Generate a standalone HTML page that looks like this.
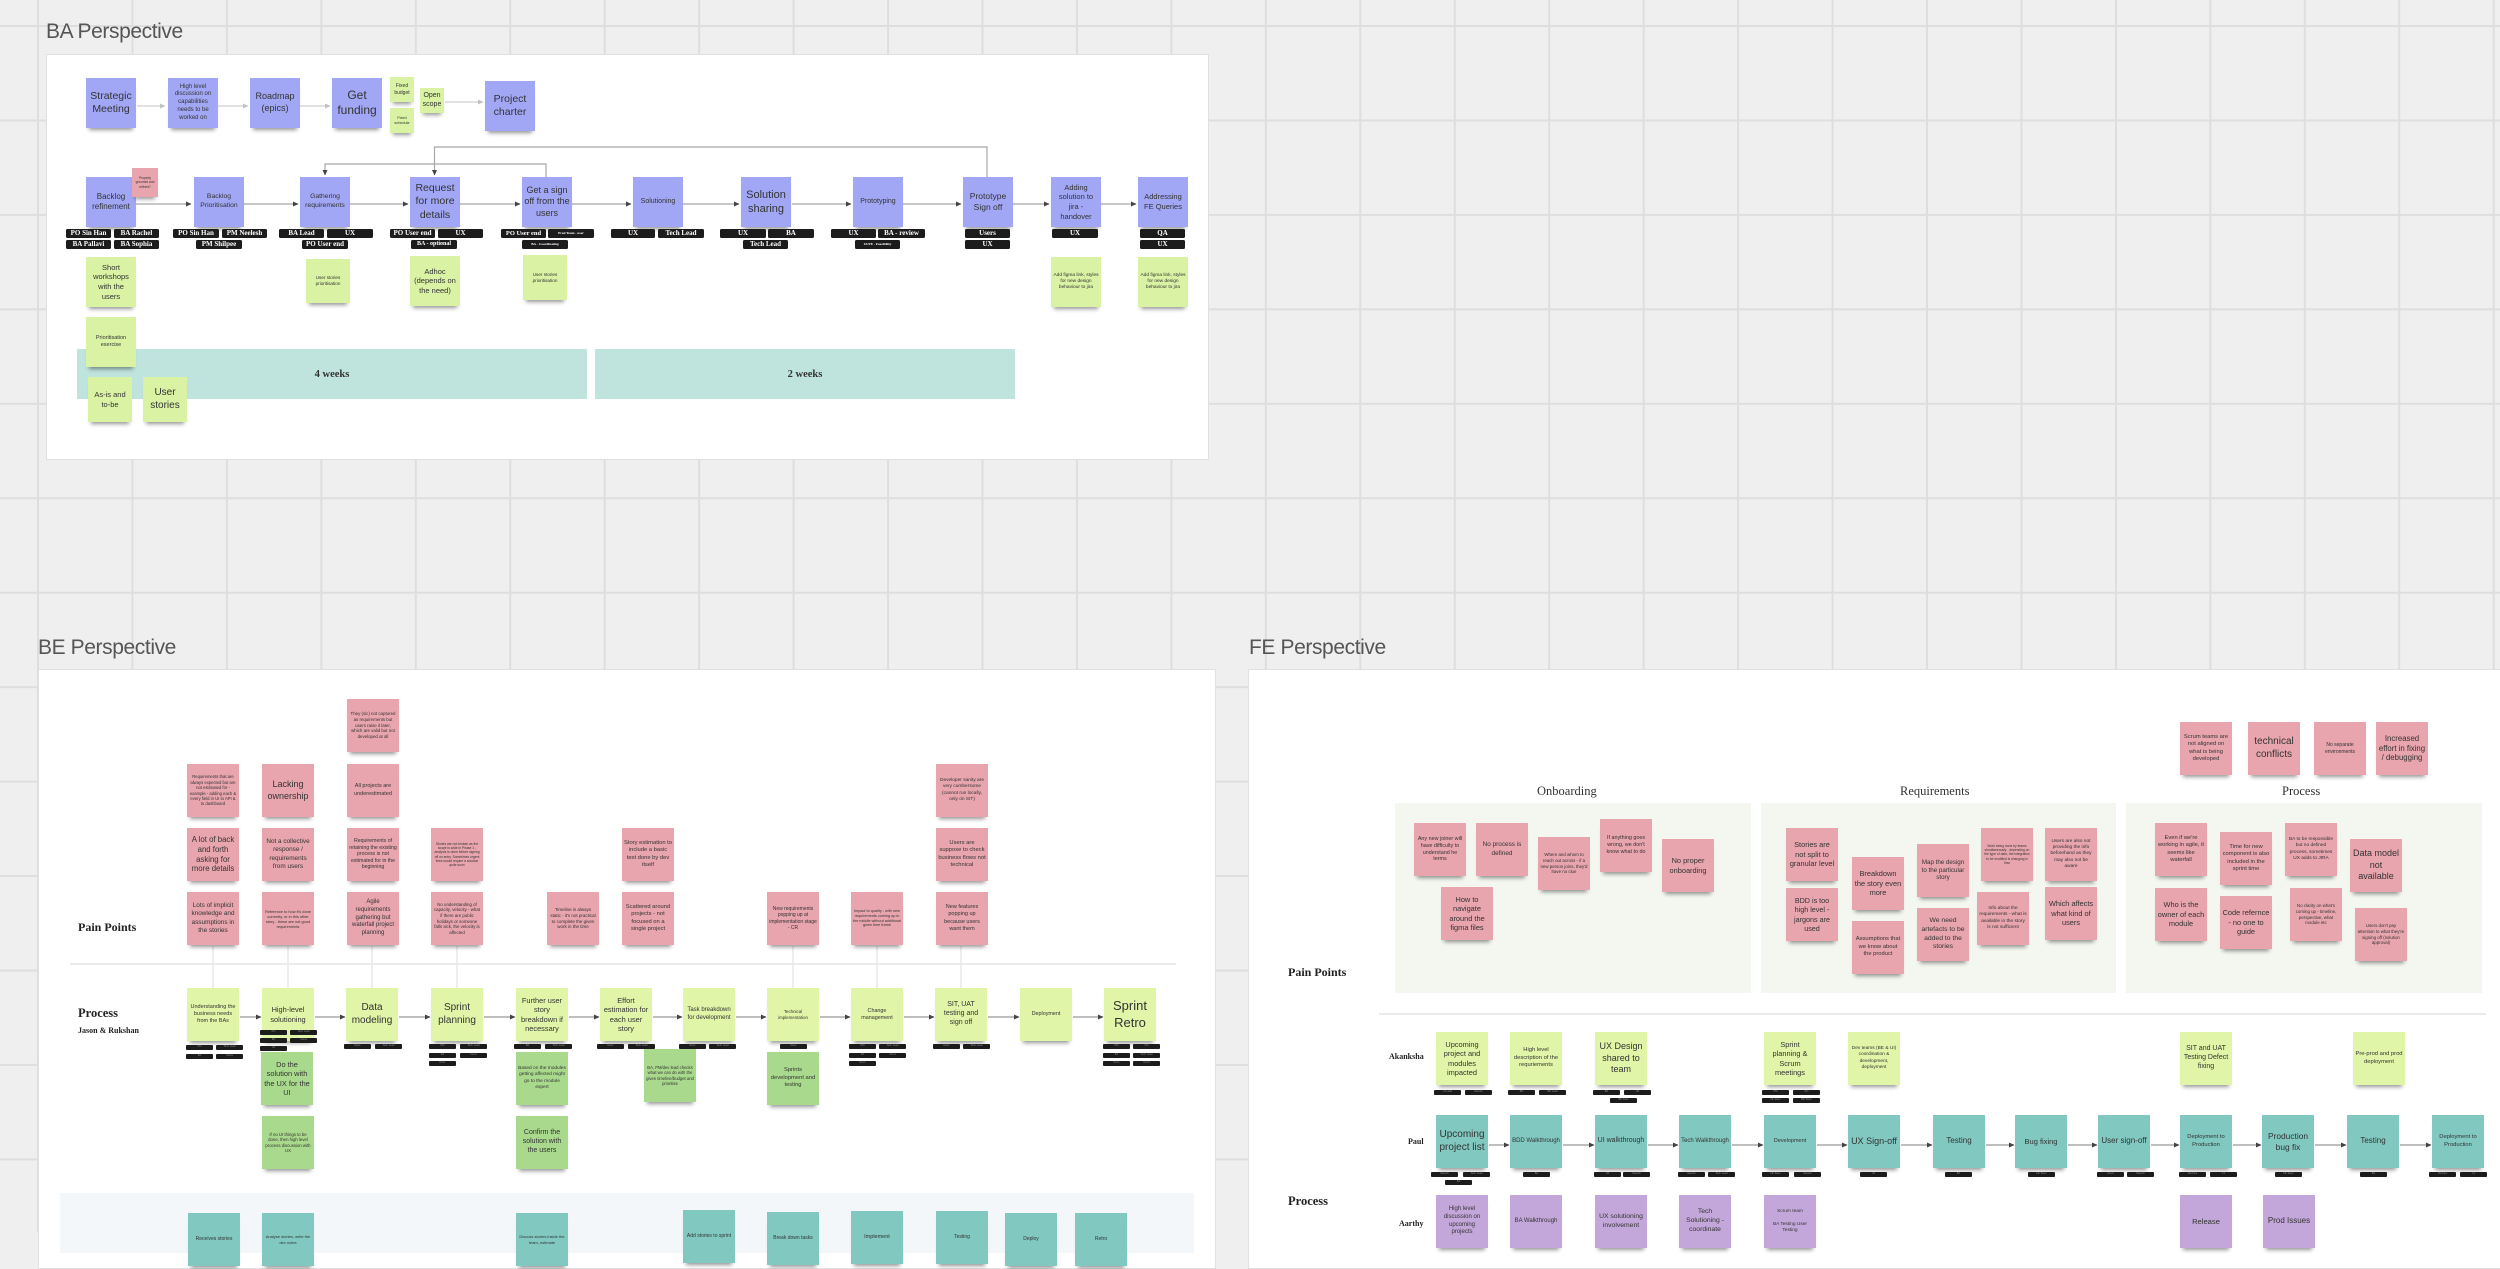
<!DOCTYPE html>
<html><head><meta charset="utf-8">
<style>
*{box-sizing:border-box}
body{margin:0;width:2500px;height:1232px;overflow:hidden;background:#efefef;position:relative;font-family:"Liberation Sans",sans-serif;}
.abs{position:absolute}
.panel{position:absolute;background:#fff;border:1px solid #e0e0e0;}
.ttl{position:absolute;font-size:21px;color:#555;letter-spacing:-0.4px;line-height:1;white-space:nowrap}
.n{position:absolute;width:52px;height:53px;display:flex;align-items:center;justify-content:center;text-align:center;color:#333;line-height:1.28;box-shadow:0 5px 4px -3px rgba(0,0,0,.42);overflow:hidden;padding:2px;}
.b{width:50px;height:50px}
.p{background:#a1a7f5}
.g{background:#d9f2a3}
.k{background:#e8a5ae}
.y{background:#e0f5a7}
.d{background:#a9d98c}
.c{background:#80c8c0}
.v{background:#c4a7da}
.tag{position:absolute;background:#1c1c1c;color:#fff;font-family:"Liberation Serif",serif;font-weight:bold;font-size:7px;height:9px;line-height:9px;text-align:center;border-radius:1.5px;overflow:hidden;white-space:nowrap}
.tg{position:absolute;background:#1c1c1c;color:#8a8a8a;font-size:2.6px;height:4.6px;line-height:4.6px;width:27px;text-align:center;border-radius:1px;overflow:hidden;white-space:nowrap}
.lbl{position:absolute;font-family:"Liberation Serif",serif;font-weight:bold;color:#222;white-space:nowrap;line-height:1}
.sh{position:absolute;font-family:"Liberation Serif",serif;color:#333;font-size:12.5px;white-space:nowrap;line-height:1}
.box{position:absolute;background:#f3f7ef}
</style></head><body>

<svg class="abs" style="left:0;top:0" width="2500" height="1232">
<defs>
<pattern id="gp" width="94.45" height="94.45" patternUnits="userSpaceOnUse" x="37" y="25">
<path d="M1 0V94.45M0 1H94.45" stroke="#dedede" stroke-width="2" fill="none"/>
</pattern>
</defs>
<rect width="2500" height="1232" fill="url(#gp)"/>
</svg>

<!-- titles -->
<div class="ttl" style="left:46px;top:21px">BA Perspective</div>
<div class="ttl" style="left:38px;top:637px">BE Perspective</div>
<div class="ttl" style="left:1249px;top:637px">FE Perspective</div>

<!-- panels -->
<div class="panel" style="left:46px;top:54px;width:1163px;height:406px"></div>
<div class="panel" style="left:38px;top:669px;width:1178px;height:600px"></div>
<div class="panel" style="left:1248px;top:669px;width:1300px;height:600px"></div>

<!-- BA teal bands -->
<div class="abs" style="left:77px;top:349px;width:510px;height:50px;background:#bfe4dd;display:flex;align-items:center;justify-content:center;font-family:'Liberation Serif',serif;font-weight:bold;font-size:10.5px;color:#333">4 weeks</div>
<div class="abs" style="left:595px;top:349px;width:420px;height:50px;background:#bfe4dd;display:flex;align-items:center;justify-content:center;font-family:'Liberation Serif',serif;font-weight:bold;font-size:10.5px;color:#333">2 weeks</div>

<!-- BE bottom band -->
<div class="abs" style="left:60px;top:1193px;width:1134px;height:60px;background:#f4f7fa"></div>

<!-- FE section boxes -->
<div class="box" style="left:1395px;top:803px;width:356px;height:190px"></div>
<div class="box" style="left:1761px;top:803px;width:355px;height:190px"></div>
<div class="box" style="left:2126px;top:803px;width:356px;height:190px"></div>
<div class="sh" style="left:1537px;top:785px">Onboarding</div>
<div class="sh" style="left:1900px;top:785px">Requirements</div>
<div class="sh" style="left:2282px;top:785px">Process</div>

<!-- lines / arrows -->
<svg class="abs" style="left:0;top:0" width="2500" height="1232">
<defs>
<marker id="al" markerWidth="6" markerHeight="6" refX="5" refY="3" orient="auto" markerUnits="userSpaceOnUse"><path d="M0,0.5 L5.5,3 L0,5.5z" fill="#c2c2c2"/></marker>
<marker id="ad" markerWidth="6" markerHeight="6" refX="5" refY="3" orient="auto" markerUnits="userSpaceOnUse"><path d="M0,0.5 L5.5,3 L0,5.5z" fill="#444"/></marker>
</defs>
<g stroke="#cfcfcf" stroke-width="1.2" fill="none" marker-end="url(#al)">
<path d="M137 106H165"/><path d="M218 106H248"/><path d="M300 106H330"/><path d="M445 102H483"/>
</g>
<g stroke="#a8a8a8" stroke-width="1.2" fill="none" marker-end="url(#ad)">
<path d="M136 204H191"/><path d="M244 204H298"/><path d="M350 204H408"/><path d="M460 204H520"/><path d="M572 204H631"/><path d="M683 204H739"/><path d="M792 204H851"/><path d="M903 204H961"/><path d="M1013 204H1049"/><path d="M1101 204H1136"/>
<path d="M546 177V164H325V175"/>
<path d="M987 177V147H434.5V175"/>
</g>
<g stroke="#e2e2e2" stroke-width="1.2">
<path d="M213 946V988M288 946V988M372 946V988M457 946V988M793 946V988M877 946V988M961 946V988"/>
</g>
<path d="M70 964H1176" stroke="#ebebeb" stroke-width="2"/>
<path d="M1379 1014H2486" stroke="#ebebeb" stroke-width="2"/>
<g stroke="#999" stroke-width="1.3" fill="none" marker-end="url(#ad)">
<path d="M240 1017H261"/><path d="M315 1017H345"/><path d="M399 1017H430"/><path d="M484 1017H515"/><path d="M569 1017H599"/><path d="M653 1017H682"/><path d="M736 1017H766"/><path d="M820 1017H850"/><path d="M904 1017H934"/><path d="M988 1017H1019"/><path d="M1073 1017H1103"/>
<path d="M1489 1145H1509"/><path d="M1563 1145H1594"/><path d="M1648 1145H1678"/><path d="M1732 1145H1763"/><path d="M1817 1145H1847"/><path d="M1901 1145H1932"/><path d="M1986 1145H2014"/><path d="M2068 1145H2097"/><path d="M2151 1145H2179"/><path d="M2233 1145H2261"/><path d="M2315 1145H2346"/><path d="M2400 1145H2431"/>
</g>
</svg>

<!-- ===== BA ===== -->
<div class="n p b" style="left:86px;top:78px;font-size:10.5px">Strategic Meeting</div>
<div class="n p b" style="left:168px;top:78px;font-size:6px">High level discussion on capabilities needs to be worked on</div>
<div class="n p b" style="left:250px;top:78px;font-size:9px">Roadmap (epics)</div>
<div class="n p b" style="left:332px;top:78px;font-size:12px">Get funding</div>
<div class="n g" style="left:390px;top:77px;width:24px;height:25px;font-size:5px;padding:1px">Fixed budget</div>
<div class="n g" style="left:390px;top:108px;width:24px;height:25px;font-size:3.8px;padding:1px">Fixed schedule</div>
<div class="n g" style="left:420px;top:88px;width:24px;height:25px;font-size:7px;padding:1px">Open scope</div>
<div class="n p b" style="left:485px;top:81px;font-size:10.5px">Project charter</div>

<div class="n p b" style="left:86px;top:177px;font-size:8px">Backlog refinement</div>
<div class="n k" style="left:132px;top:168px;width:26px;height:29px;font-size:3.2px;padding:1px">Properly groomed and refined?</div>
<div class="n p b" style="left:194px;top:177px;font-size:6.8px">Backlog Prioritisation</div>
<div class="n p b" style="left:300px;top:177px;font-size:6.8px">Gathering requirements</div>
<div class="n p b" style="left:410px;top:177px;font-size:10.5px">Request for more details</div>
<div class="n p b" style="left:522px;top:177px;font-size:9px">Get a sign off from the users</div>
<div class="n p b" style="left:633px;top:177px;font-size:7px">Solutioning</div>
<div class="n p b" style="left:741px;top:177px;font-size:11px">Solution sharing</div>
<div class="n p b" style="left:853px;top:177px;font-size:7px">Prototyping</div>
<div class="n p b" style="left:963px;top:177px;font-size:8.5px">Prototype Sign off</div>
<div class="n p b" style="left:1051px;top:177px;font-size:7.5px">Adding solution to jira - handover</div>
<div class="n p b" style="left:1138px;top:177px;font-size:7.5px">Addressing FE Queries</div>

<!-- BA tags -->
<div class="tag" style="left:66px;top:229px;width:45px">PO Sin Han</div>
<div class="tag" style="left:114px;top:229px;width:45px">BA Rachel</div>
<div class="tag" style="left:66px;top:240px;width:45px">BA Pallavi</div>
<div class="tag" style="left:114px;top:240px;width:45px">BA Sophia</div>
<div class="tag" style="left:173px;top:229px;width:46px">PO Sin Han</div>
<div class="tag" style="left:222px;top:229px;width:45px">PM Neelesh</div>
<div class="tag" style="left:196px;top:240px;width:46px">PM Shilpee</div>
<div class="tag" style="left:279px;top:229px;width:45px">BA Lead</div>
<div class="tag" style="left:327px;top:229px;width:46px">UX</div>
<div class="tag" style="left:302px;top:240px;width:46px">PO User end</div>
<div class="tag" style="left:390px;top:229px;width:45px">PO User end</div>
<div class="tag" style="left:438px;top:229px;width:45px">UX</div>
<div class="tag" style="left:411px;top:240px;width:46px;font-size:6px">BA - optional</div>
<div class="tag" style="left:501px;top:229px;width:45px;font-size:6.5px">PO User end</div>
<div class="tag" style="left:548px;top:229px;width:46px;font-size:3.5px">Prod Team - user</div>
<div class="tag" style="left:522px;top:240px;width:46px;font-size:3.5px">BA - Coordinating</div>
<div class="tag" style="left:611px;top:229px;width:44px">UX</div>
<div class="tag" style="left:658px;top:229px;width:46px">Tech Lead</div>
<div class="tag" style="left:720px;top:229px;width:46px">UX</div>
<div class="tag" style="left:768px;top:229px;width:46px">BA</div>
<div class="tag" style="left:743px;top:240px;width:45px">Tech Lead</div>
<div class="tag" style="left:831px;top:229px;width:45px">UX</div>
<div class="tag" style="left:878px;top:229px;width:47px">BA - review</div>
<div class="tag" style="left:855px;top:240px;width:45px;font-size:3.5px">UI/FE - Feasibility</div>
<div class="tag" style="left:965px;top:229px;width:45px">Users</div>
<div class="tag" style="left:965px;top:240px;width:45px">UX</div>
<div class="tag" style="left:1052px;top:229px;width:46px">UX</div>
<div class="tag" style="left:1140px;top:229px;width:45px">QA</div>
<div class="tag" style="left:1140px;top:240px;width:45px">UX</div>

<div class="n g b" style="left:86px;top:257px;font-size:7.5px">Short workshops with the users</div>
<div class="n g" style="left:306px;top:259px;width:44px;height:44px;font-size:4.6px">User stories prioritisation</div>
<div class="n g b" style="left:410px;top:256px;font-size:7.5px">Adhoc (depends on the need)</div>
<div class="n g" style="left:523px;top:255px;width:44px;height:45px;font-size:4.6px">User stories prioritisation</div>
<div class="n g b" style="left:1051px;top:257px;font-size:4.8px">Add figma link, styles for new design behaviour to jira</div>
<div class="n g b" style="left:1138px;top:257px;font-size:4.8px">Add figma link, styles for new design behaviour to jira</div>
<div class="n g b" style="left:86px;top:317px;font-size:5.5px">Prioritisation exercise</div>
<div class="n g" style="left:88px;top:377px;width:44px;height:45px;font-size:7.5px">As-is and to-be</div>
<div class="n g" style="left:143px;top:377px;width:44px;height:45px;font-size:10px">User stories</div>

<!-- ===== BE ===== -->
<div class="lbl" style="left:78px;top:921px;font-size:12px">Pain Points</div>
<div class="lbl" style="left:78px;top:1007px;font-size:12.5px">Process</div>
<div class="lbl" style="left:78px;top:1027px;font-size:8px">Jason &amp; Rukshan</div>

<div class="n k" style="left:347px;top:699px;font-size:4.4px">They (sic) not captured as requirements but users raise it later, which are valid but not developed at all</div>
<div class="n k" style="left:187px;top:764px;font-size:4.2px">Requirements that are always expected but are not estimated for - example - adding each &amp; every field in UI to API &amp; to dashboard</div>
<div class="n k" style="left:262px;top:764px;font-size:9px">Lacking ownership</div>
<div class="n k" style="left:347px;top:764px;font-size:5.5px">All projects are underestimated</div>
<div class="n k" style="left:936px;top:764px;font-size:4.8px">Developer sanity are very cumbersome (cannot run locally, only on SIT)</div>

<div class="n k" style="left:187px;top:828px;font-size:7.8px">A lot of back and forth asking for more details</div>
<div class="n k" style="left:262px;top:828px;font-size:6.4px">Not a collective response / requirements from users</div>
<div class="n k" style="left:347px;top:828px;font-size:5.2px">Requirements of retaining the existing process is not estimated for in the beginning</div>
<div class="n k" style="left:431px;top:828px;font-size:3.3px">Stories are not broken as the scope is wide in Phase 1 - analysis is done before signing off on entry. Sometimes urgent fixes would require a solution quite soon</div>
<div class="n k" style="left:622px;top:828px;font-size:5.8px">Story estimation to include a basic test done by dev itself</div>
<div class="n k" style="left:936px;top:828px;font-size:5.8px">Users are suppose to check business flows not technical</div>

<div class="n k" style="left:187px;top:892px;font-size:6.4px">Lots of implicit knowledge and assumptions in the stories</div>
<div class="n k" style="left:262px;top:892px;font-size:3.9px">Reference to how it's done currently, or in this other story - these are not good requirements</div>
<div class="n k" style="left:347px;top:892px;font-size:6px">Agile requirements gathering but waterfall project planning</div>
<div class="n k" style="left:431px;top:892px;font-size:4.4px">No understanding of capacity, velocity - what if there are public holidays or someone falls sick, the velocity is affected</div>
<div class="n k" style="left:547px;top:892px;font-size:4.5px">Timeline is always static - it's not practical to complete the given work in the time</div>
<div class="n k" style="left:622px;top:892px;font-size:5.8px">Scattered around projects - not focused on a single project</div>
<div class="n k" style="left:767px;top:892px;font-size:5px">New requirements popping up at implementation stage - CR</div>
<div class="n k" style="left:851px;top:892px;font-size:3.8px">Impact to quality - with new requirements coming up in the middle without additional given time frame</div>
<div class="n k" style="left:936px;top:892px;font-size:5.5px">New features popping up because users want them</div>

<!-- BE process -->
<div class="n y" style="left:187px;top:988px;font-size:5.5px">Understanding the business needs from the BAs</div>
<div class="n y" style="left:262px;top:988px;font-size:7.4px">High-level solutioning</div>
<div class="n y" style="left:346px;top:988px;font-size:10px">Data modeling</div>
<div class="n y" style="left:431px;top:988px;font-size:10px">Sprint planning</div>
<div class="n y" style="left:516px;top:988px;font-size:7.4px">Further user story breakdown if necessary</div>
<div class="n y" style="left:600px;top:988px;font-size:7.4px">Effort estimation for each user story</div>
<div class="n y" style="left:683px;top:988px;font-size:6px">Task breakdown for development</div>
<div class="n y" style="left:767px;top:988px;font-size:4.4px">Technical implementation</div>
<div class="n y" style="left:851px;top:988px;font-size:5.4px">Change management</div>
<div class="n y" style="left:935px;top:988px;font-size:7px">SIT, UAT testing and sign off</div>
<div class="n y" style="left:1020px;top:988px;font-size:5.4px">Deployment</div>
<div class="n y" style="left:1104px;top:988px;font-size:13px;line-height:1.3">Sprint Retro</div>

<!-- BE tags -->
<div class="tg" style="left:186px;top:1045px">PO</div><div class="tg" style="left:216px;top:1045px">Tech Lead</div>
<div class="tg" style="left:186px;top:1054px">BA</div><div class="tg" style="left:216px;top:1054px">Users</div>
<div class="tg" style="left:260px;top:1030px">PO</div><div class="tg" style="left:290px;top:1030px">Tech Lead</div>
<div class="tg" style="left:260px;top:1038px">BA</div><div class="tg" style="left:290px;top:1038px">Users</div>
<div class="tg" style="left:260px;top:1046px">UX</div>
<div class="tg" style="left:344px;top:1044px">Devs</div><div class="tg" style="left:375px;top:1044px">Tech Lead</div>
<div class="tg" style="left:429px;top:1044px">PM</div><div class="tg" style="left:460px;top:1044px">Tech Lead</div>
<div class="tg" style="left:429px;top:1053px">BA</div><div class="tg" style="left:460px;top:1053px">Users</div>
<div class="tg" style="left:429px;top:1061px">Devs</div>
<div class="tg" style="left:514px;top:1044px">BA</div><div class="tg" style="left:545px;top:1044px">Tech Lead</div>
<div class="tg" style="left:597px;top:1044px">Devs</div><div class="tg" style="left:628px;top:1044px">Tech Lead</div>
<div class="tg" style="left:679px;top:1044px">Devs</div><div class="tg" style="left:709px;top:1044px">Tech Lead</div>
<div class="tg" style="left:780px;top:1044px">Devs</div>
<div class="tg" style="left:849px;top:1044px">PM</div><div class="tg" style="left:879px;top:1044px">Tech Lead</div>
<div class="tg" style="left:849px;top:1053px">BA</div><div class="tg" style="left:879px;top:1053px">Users</div>
<div class="tg" style="left:849px;top:1061px">Devs</div>
<div class="tg" style="left:933px;top:1044px">Devs</div><div class="tg" style="left:963px;top:1044px">Tech Lead</div>
<div class="tg" style="left:1103px;top:1044px">PM</div><div class="tg" style="left:1133px;top:1044px">PO</div>
<div class="tg" style="left:1103px;top:1053px">BA</div><div class="tg" style="left:1133px;top:1053px">Tech Lead</div>
<div class="tg" style="left:1103px;top:1061px">Devs</div><div class="tg" style="left:1133px;top:1061px">Users</div>

<!-- BE green -->
<div class="n d" style="left:261px;top:1052px;font-size:7.4px">Do the solution with the UX for the UI</div>
<div class="n d" style="left:262px;top:1116px;font-size:4.3px">If no UI things to be done, then high level process discussion with UX</div>
<div class="n d" style="left:516px;top:1052px;font-size:4.8px">Based on the modules getting affected might go to the module expert</div>
<div class="n d" style="left:516px;top:1116px;font-size:7px">Confirm the solution with the users</div>
<div class="n d" style="left:644px;top:1049px;font-size:4.2px">BA, PM/dev lead checks what we can do with the given timeline/budget and prioritise</div>
<div class="n d" style="left:767px;top:1052px;font-size:5.8px">Sprints development and testing</div>

<!-- BE bottom teal -->
<div class="n c" style="left:188px;top:1213px;font-size:5px">Receives stories</div>
<div class="n c" style="left:262px;top:1213px;font-size:4px">Analyse stories, write the dev notes</div>
<div class="n c" style="left:516px;top:1213px;font-size:4px">Discuss stories inside the team, estimate</div>
<div class="n c" style="left:683px;top:1210px;font-size:5px">Add stories to sprint</div>
<div class="n c" style="left:767px;top:1212px;font-size:5px">Break down tasks</div>
<div class="n c" style="left:851px;top:1211px;font-size:5.5px">Implement</div>
<div class="n c" style="left:936px;top:1211px;font-size:5px">Testing</div>
<div class="n c" style="left:1005px;top:1213px;font-size:5px">Deploy</div>
<div class="n c" style="left:1075px;top:1213px;font-size:5px">Retro</div>

<!-- ===== FE ===== -->
<div class="n k" style="left:2180px;top:722px;font-size:5.8px">Scrum teams are not aligned on what is being developed</div>
<div class="n k" style="left:2248px;top:722px;font-size:10px">technical conflicts</div>
<div class="n k" style="left:2314px;top:722px;font-size:5px">No separate environments</div>
<div class="n k" style="left:2376px;top:722px;font-size:7.8px">Increased effort in fixing / debugging</div>

<div class="n k" style="left:1414px;top:823px;font-size:5.4px">Any new joiner will have difficulty to understand he terms</div>
<div class="n k" style="left:1476px;top:823px;font-size:6.4px">No process is defined</div>
<div class="n k" style="left:1538px;top:837px;font-size:4.4px">Where and whom to reach out across - if a new person joins, they'd have no clue</div>
<div class="n k" style="left:1600px;top:819px;font-size:5.4px">If anything goes wrong, we don't know what to do</div>
<div class="n k" style="left:1662px;top:839px;font-size:7.4px">No proper onboarding</div>
<div class="n k" style="left:1441px;top:887px;font-size:7.4px">How to navigate around the figma files</div>

<div class="n k" style="left:1786px;top:828px;font-size:7.4px">Stories are not split to granular level</div>
<div class="n k" style="left:1786px;top:888px;font-size:7.2px">BDD is too high level - jargons are used</div>
<div class="n k" style="left:1852px;top:857px;font-size:7.4px">Breakdown the story even more</div>
<div class="n k" style="left:1852px;top:921px;font-size:5.8px">Assumptions that we know about the product</div>
<div class="n k" style="left:1917px;top:844px;font-size:6.2px">Map the design to the particular story</div>
<div class="n k" style="left:1917px;top:908px;font-size:6.8px">We need artefacts to be added to the stories</div>
<div class="n k" style="left:1981px;top:828px;font-size:3.3px">Work being done by teams simultaneously - depending on the type of data, the integration to be modified is changing in flow</div>
<div class="n k" style="left:1977px;top:892px;font-size:4.8px">Info about the requirements - what is available in the story is not sufficient</div>
<div class="n k" style="left:2045px;top:828px;font-size:4.8px">Users are also not providing the info beforehand as they may also not be aware</div>
<div class="n k" style="left:2045px;top:887px;font-size:7.4px">Which affects what kind of users</div>

<div class="n k" style="left:2155px;top:823px;font-size:5.8px">Even if we're working in agile, it seems like waterfall</div>
<div class="n k" style="left:2155px;top:888px;font-size:7.4px">Who is the owner of each module</div>
<div class="n k" style="left:2220px;top:832px;font-size:5.8px">Time for new component is also included in the sprint time</div>
<div class="n k" style="left:2220px;top:896px;font-size:7.4px">Code refernce - no one to guide</div>
<div class="n k" style="left:2285px;top:823px;font-size:4.8px">BA to be responsible but no defined process, sometimes UX adds to JIRA</div>
<div class="n k" style="left:2290px;top:888px;font-size:4.4px">No clarity on what's coming up - timeline, perspective, what module etc</div>
<div class="n k" style="left:2350px;top:839px;font-size:9px">Data model not available</div>
<div class="n k" style="left:2355px;top:908px;font-size:4.4px">Users don't pay attention to what they're signing off (solution approval)</div>

<div class="lbl" style="left:1288px;top:966px;font-size:12px">Pain Points</div>

<div class="lbl" style="left:1389px;top:1053px;font-size:8px">Akanksha</div>
<div class="n y" style="left:1436px;top:1032px;font-size:7.4px">Upcoming project and modules impacted</div>
<div class="n y" style="left:1510px;top:1032px;font-size:5.8px">High level description of the requriements</div>
<div class="n y" style="left:1595px;top:1032px;font-size:9px">UX Design shared to team</div>
<div class="n y" style="left:1764px;top:1032px;font-size:7.4px">Sprint planning &amp; Scrum meetings</div>
<div class="n y" style="left:1848px;top:1032px;font-size:4.8px">Dev teams (BE &amp; UI) coordination &amp; development, deployment</div>
<div class="n y" style="left:2180px;top:1032px;font-size:7px">SIT and UAT Testing Defect fixing</div>
<div class="n y" style="left:2353px;top:1032px;font-size:5.8px">Pre-prod and prod deployment</div>

<div class="tg" style="left:1434px;top:1090px">UI Lead</div><div class="tg" style="left:1465px;top:1090px">Naresh</div>
<div class="tg" style="left:1508px;top:1090px">BA</div><div class="tg" style="left:1539px;top:1090px">BE Lead</div>
<div class="tg" style="left:1593px;top:1090px">BA</div><div class="tg" style="left:1624px;top:1090px">UX</div>
<div class="tg" style="left:1610px;top:1098px">BE Team</div>
<div class="tg" style="left:1762px;top:1090px">PM</div><div class="tg" style="left:1793px;top:1090px">PO</div>
<div class="tg" style="left:1762px;top:1098px">FE Team</div><div class="tg" style="left:1793px;top:1098px">BE Team</div>

<div class="lbl" style="left:1408px;top:1138px;font-size:8px">Paul</div>
<div class="n c" style="left:1436px;top:1115px;font-size:10px">Upcoming project list</div>
<div class="n c" style="left:1510px;top:1115px;font-size:6px">BDD Walkthrough</div>
<div class="n c" style="left:1595px;top:1115px;font-size:7px">UI walkthrough</div>
<div class="n c" style="left:1679px;top:1115px;font-size:6px">Tech Walkthrough</div>
<div class="n c" style="left:1764px;top:1115px;font-size:5.5px">Development</div>
<div class="n c" style="left:1848px;top:1115px;font-size:9px">UX Sign-off</div>
<div class="n c" style="left:1933px;top:1115px;font-size:8px">Testing</div>
<div class="n c" style="left:2015px;top:1115px;font-size:7.5px">Bug fixing</div>
<div class="n c" style="left:2098px;top:1115px;font-size:8px">User sign-off</div>
<div class="n c" style="left:2180px;top:1115px;font-size:5.8px">Deployment to Production</div>
<div class="n c" style="left:2262px;top:1115px;font-size:8.4px">Production bug fix</div>
<div class="n c" style="left:2347px;top:1115px;font-size:8px">Testing</div>
<div class="n c" style="left:2432px;top:1115px;font-size:5.8px">Deployment to Production</div>

<div class="tg" style="left:1431px;top:1172px">Naresh</div><div class="tg" style="left:1463px;top:1172px">Tech Lead</div>
<div class="tg" style="left:1445px;top:1180px">BA</div>
<div class="tg" style="left:1523px;top:1172px">BA</div>
<div class="tg" style="left:1594px;top:1172px">UX</div><div class="tg" style="left:1623px;top:1172px">Naresh</div>
<div class="tg" style="left:1678px;top:1172px">Naresh</div><div class="tg" style="left:1708px;top:1172px">Tech Lead</div>
<div class="tg" style="left:1762px;top:1172px">FE Team</div><div class="tg" style="left:1794px;top:1172px">Naresh</div>
<div class="tg" style="left:1860px;top:1172px">UX</div>
<div class="tg" style="left:1945px;top:1172px">BA</div>
<div class="tg" style="left:2028px;top:1172px">FE Team</div>
<div class="tg" style="left:2097px;top:1172px">Users</div><div class="tg" style="left:2127px;top:1172px">Naresh</div>
<div class="tg" style="left:2179px;top:1172px">DevOps</div><div class="tg" style="left:2210px;top:1172px">L3</div>
<div class="tg" style="left:2275px;top:1172px">FE Team</div>
<div class="tg" style="left:2360px;top:1172px">BA</div>
<div class="tg" style="left:2429px;top:1172px">DevOps</div><div class="tg" style="left:2460px;top:1172px">L3</div>

<div class="lbl" style="left:1288px;top:1195px;font-size:12.5px">Process</div>
<div class="lbl" style="left:1399px;top:1220px;font-size:8px">Aarthy</div>
<div class="n v" style="left:1436px;top:1195px;font-size:6px">High level discussion on upcoming projects</div>
<div class="n v" style="left:1510px;top:1195px;font-size:6px">BA Walkthrough</div>
<div class="n v" style="left:1595px;top:1195px;font-size:6.8px">UX solutioning involvement</div>
<div class="n v" style="left:1679px;top:1195px;font-size:6.8px">Tech Solutioning - coordinate</div>
<div class="n v" style="left:1764px;top:1195px;font-size:4.8px">Scrum team<br><br>BA Testing User Testing</div>
<div class="n v" style="left:2180px;top:1195px;font-size:7.6px">Release</div>
<div class="n v" style="left:2263px;top:1195px;font-size:8px">Prod Issues</div>

</body></html>
